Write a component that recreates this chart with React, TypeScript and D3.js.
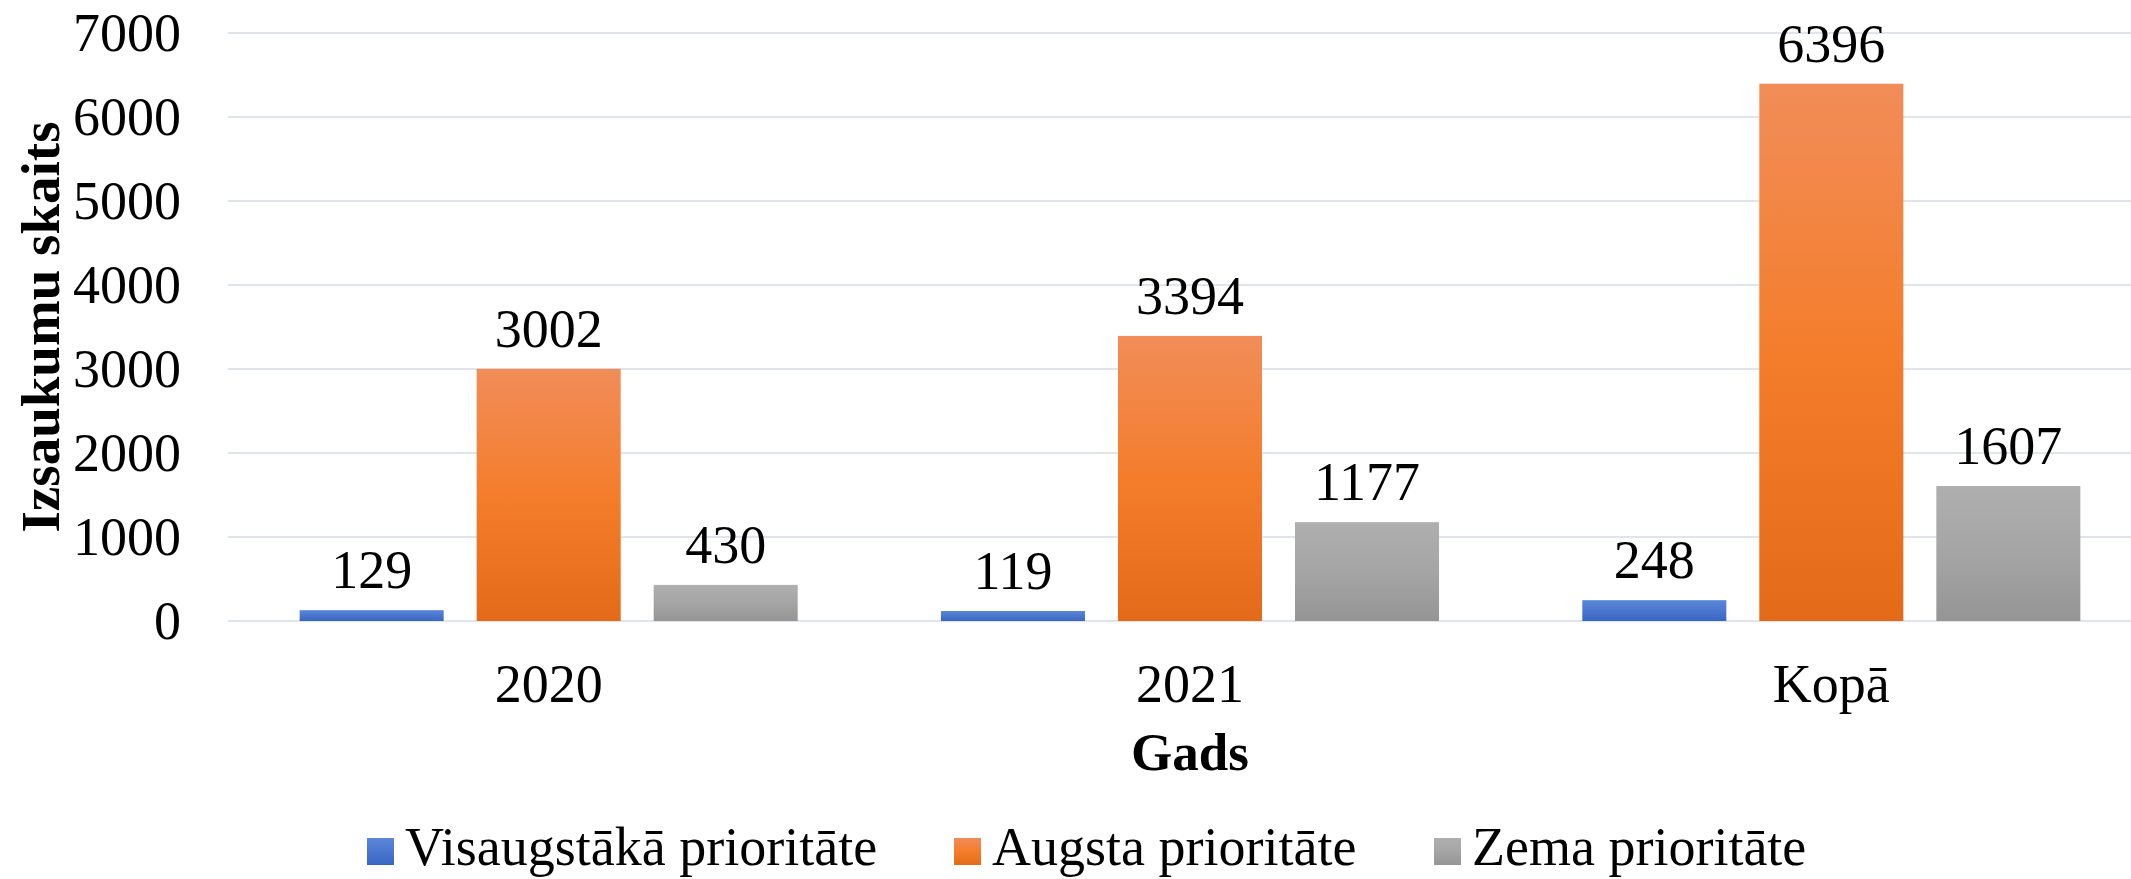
import * as React from "react";
import { scaleBand, scaleLinear } from "d3";

// chart data
const categories = ["2020", "2021", "Kopā"];
const seriesNames = ["Visaugstākā prioritāte", "Augsta prioritāte", "Zema prioritāte"];
const visaugstaka = [129, 119, 248];
const augsta = [3002, 3394, 6396];
const zema = [430, 1177, 1607];
const yTicks = [0, 1000, 2000, 3000, 4000, 5000, 6000, 7000];

const seriesValues = [visaugstaka, augsta, zema];

const gradients = [
  { id: "gBlue", stops: ["#5B87D8", "#4A76CF", "#3966C3"] },
  { id: "gOrange", stops: ["#F18D58", "#F47D2C", "#E36A19"] },
  { id: "gGray", stops: ["#AFAFAF", "#A5A5A5", "#959595"] },
];

const W = 2131;
const H = 879;
const margin = { left: 228, right: -21, top: 33, bottom: 258 };
const FONT = "'Liberation Serif', 'Times New Roman', serif";

const App = () => {
  const plotRight = W - margin.right;
  const plotBottom = H - margin.bottom;

  const y = scaleLinear().domain([0, 7000]).range([plotBottom, margin.top]);
  const x0 = scaleBand<string>().domain(categories).range([margin.left, plotRight]);
  const groupW = x0.bandwidth() * 0.7766;
  const inset = (x0.bandwidth() - groupW) / 2;
  const x1 = scaleBand<number>()
    .domain([0, 1, 2])
    .range([inset, inset + groupW])
    .paddingInner(0.1864);

  const legendX = [367, 954, 1434];

  return (
    <svg
      width={W}
      height={H}
      style={{ position: "absolute", left: 0, top: 0, background: "#fff" }}
      fontFamily={FONT}
    >
      <defs>
        {gradients.map(g => (
          <linearGradient key={g.id} id={g.id} x1="0" y1="0" x2="0" y2="1">
            <stop offset="0" stopColor={g.stops[0]} />
            <stop offset="0.5" stopColor={g.stops[1]} />
            <stop offset="1" stopColor={g.stops[2]} />
          </linearGradient>
        ))}
      </defs>

      {/* grid */}
      {yTicks.map(t => (
        <line
          key={t}
          x1={margin.left}
          x2={plotRight}
          y1={y(t)}
          y2={y(t)}
          stroke="#E1E5EB"
          strokeWidth={2}
        />
      ))}

      {/* y tick labels */}
      {yTicks.map(t => (
        <text key={t} x={181} y={y(t)} dy="0.34em" textAnchor="end" fontSize={54}>
          {t}
        </text>
      ))}

      {/* bars */}
      {categories.map((c, ci) => (
        <g key={c} transform={`translate(${x0(c)},0)`}>
          {seriesValues.map((vals, si) => {
            const v = vals[ci];
            const bx = x1(si) as number;
            return (
              <g key={si}>
                <rect
                  x={bx}
                  y={y(v)}
                  width={x1.bandwidth()}
                  height={plotBottom - y(v)}
                  fill={`url(#${gradients[si].id})`}
                />
                <text
                  x={bx + x1.bandwidth() / 2}
                  y={y(v) - 22}
                  textAnchor="middle"
                  fontSize={54}
                >
                  {v}
                </text>
              </g>
            );
          })}
        </g>
      ))}

      {/* x labels */}
      {categories.map(c => (
        <text
          key={c}
          x={(x0(c) as number) + x0.bandwidth() / 2}
          y={702}
          textAnchor="middle"
          fontSize={54}
        >
          {c}
        </text>
      ))}

      {/* axis titles */}
      <text
        x={(margin.left + plotRight) / 2}
        y={770}
        textAnchor="middle"
        fontSize={53}
        fontWeight="bold"
      >
        Gads
      </text>
      <text
        transform={`translate(59,${(margin.top + plotBottom) / 2}) rotate(-90)`}
        textAnchor="middle"
        fontSize={55}
        fontWeight="bold"
      >
        Izsaukumu skaits
      </text>

      {/* legend */}
      {seriesNames.map((s, i) => (
        <g key={s}>
          <rect x={legendX[i]} y={838} width={27} height={27} fill={`url(#${gradients[i].id})`} />
          <text x={legendX[i] + 38} y={865} fontSize={54}>
            {s}
          </text>
        </g>
      ))}
    </svg>
  );
};

export default App;
